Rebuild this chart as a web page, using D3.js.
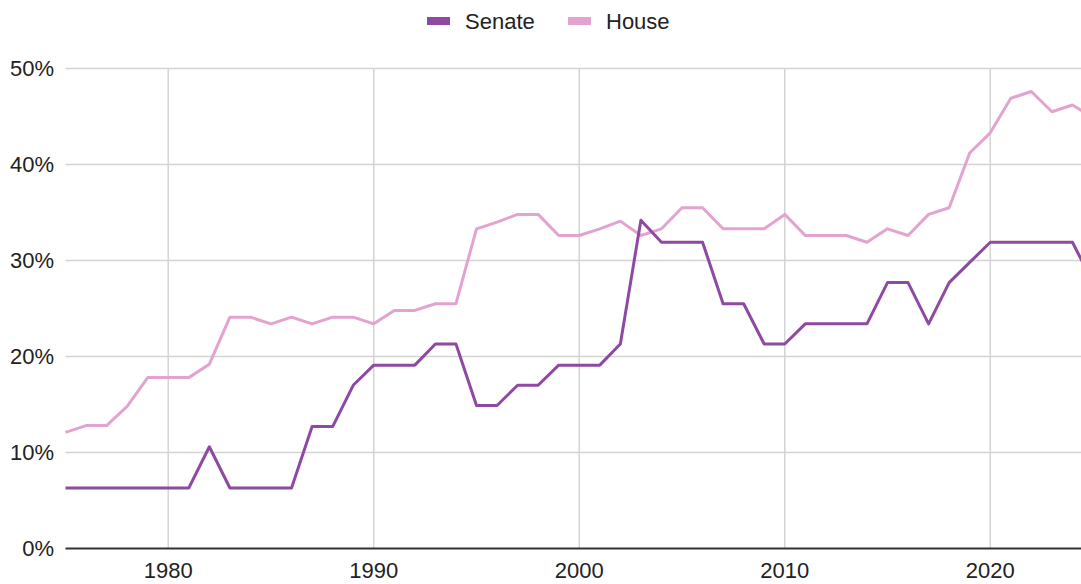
<!DOCTYPE html>
<html>
<head>
<meta charset="utf-8">
<script src="https://cdn.jsdelivr.net/npm/d3@7"></script>
<style>
  body { margin: 0; background: #fff; }
  svg { display: block; font-family: "Liberation Sans", Arial, sans-serif; }
</style>
</head>
<body>
<div id="chart"></div>
<script>
// years on the x axis
const years = d3.range(1975, 2026);

// share in percent
const senate = [6.3, 6.3, 6.3, 6.3, 6.3, 6.3, 6.3, 10.6, 6.3, 6.3,
                6.3, 6.3, 12.7, 12.7, 17.0, 19.1, 19.1, 19.1, 21.3, 21.3,
                14.9, 14.9, 17.0, 17.0, 19.1, 19.1, 19.1, 21.3, 34.2, 31.9,
                31.9, 31.9, 25.5, 25.5, 21.3, 21.3, 23.4, 23.4, 23.4, 23.4,
                27.7, 27.7, 23.4, 27.7, 29.8, 31.9, 31.9, 31.9, 31.9, 31.9,
                27.7];
const house = [12.1, 12.8, 12.8, 14.8, 17.8, 17.8, 17.8, 19.2, 24.1, 24.1,
               23.4, 24.1, 23.4, 24.1, 24.1, 23.4, 24.8, 24.8, 25.5, 25.5,
               33.3, 34.0, 34.8, 34.8, 32.6, 32.6, 33.3, 34.1, 32.6, 33.3,
               35.5, 35.5, 33.3, 33.3, 33.3, 34.8, 32.6, 32.6, 32.6, 31.9,
               33.3, 32.6, 34.8, 35.5, 41.2, 43.3, 46.9, 47.6, 45.5, 46.2,
               44.9];

const seriesNames = ["Senate", "House"];
const seriesColors = ["#8e4aa2", "#e3a3cf"];
const yTicks = [0, 10, 20, 30, 40, 50];
const xTicks = [1980, 1990, 2000, 2010, 2020];

const W = 1081, H = 584;
const plotLeft = 65.5, plotTop = 68.5, plotBottom = 548.5;

const svg = d3.select("#chart").append("svg")
    .attr("width", W)
    .attr("height", H);

const x = d3.scaleLinear()
    .domain([1975, 2025])
    .range([plotLeft, plotLeft + 50 * 20.55]);

const y = d3.scaleLinear()
    .domain([0, 50])
    .range([plotBottom, plotTop]);

// horizontal grid
svg.append("g")
    .selectAll("line")
    .data(yTicks.filter(d => d > 0))
    .join("line")
    .attr("x1", plotLeft)
    .attr("x2", W)
    .attr("y1", d => y(d))
    .attr("y2", d => y(d))
    .attr("stroke", "#d4d4d4")
    .attr("stroke-width", 1.5);

// vertical grid
svg.append("g")
    .selectAll("line")
    .data(xTicks)
    .join("line")
    .attr("x1", d => x(d))
    .attr("x2", d => x(d))
    .attr("y1", plotTop)
    .attr("y2", plotBottom)
    .attr("stroke", "#d4d4d4")
    .attr("stroke-width", 1.5);

// y labels
svg.append("g")
    .selectAll("text")
    .data(yTicks)
    .join("text")
    .attr("x", 54)
    .attr("y", d => y(d))
    .attr("dy", "0.35em")
    .attr("text-anchor", "end")
    .attr("fill", "#222")
    .style("font-size", "22px")
    .text(d => d + "%");

// x labels
svg.append("g")
    .selectAll("text")
    .data(xTicks)
    .join("text")
    .attr("x", d => x(d))
    .attr("y", 578)
    .attr("text-anchor", "middle")
    .attr("fill", "#222")
    .style("font-size", "22px")
    .text(d => d);

// lines, house first so senate sits on top
const line = d3.line()
    .x(d => x(d[0]))
    .y(d => y(d[1]));

[[house, 1], [senate, 0]].forEach(([vals, idx]) => {
    svg.append("path")
        .datum(years.map((yr, k) => [yr, vals[k]]))
        .attr("fill", "none")
        .attr("stroke", seriesColors[idx])
        .attr("stroke-width", 3)
        .attr("stroke-linejoin", "round")
        .attr("d", line);
});

// baseline
svg.append("line")
    .attr("x1", plotLeft)
    .attr("x2", W)
    .attr("y1", plotBottom)
    .attr("y2", plotBottom)
    .attr("stroke", "#333")
    .attr("stroke-width", 2);

// legend
const legendX = [427, 568];
const legend = svg.append("g")
    .selectAll("g")
    .data(seriesNames)
    .join("g")
    .attr("transform", (d, i) => `translate(${legendX[i]},0)`);

legend.append("rect")
    .attr("x", 0)
    .attr("y", 17)
    .attr("width", 23)
    .attr("height", 8)
    .attr("fill", (d, i) => seriesColors[i]);

legend.append("text")
    .attr("x", 38)
    .attr("y", 21)
    .attr("dy", "0.35em")
    .attr("fill", "#222")
    .style("font-size", "22px")
    .text(d => d);
</script>
</body>
</html>
